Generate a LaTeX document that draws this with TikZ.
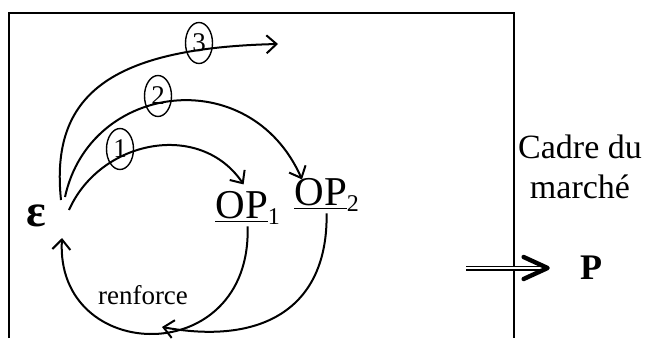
\documentclass[tikz,border=0pt]{standalone}
\usepackage{fontspec}
\setmainfont{Liberation Serif}
\usetikzlibrary{arrows.meta, positioning, shapes.geometric}

\begin{document}
\begin{tikzpicture}[
  x=0.5pt, y=-0.5pt,
  flow/.style={-{Straight Barb[length=5pt, width=9pt]}, line width=1pt},
  numring/.style={ellipse, draw, line width=0.7pt, minimum width=13.5pt, minimum height=20.5pt, inner sep=0pt, font=\fontsize{13.5}{14}\selectfont},
  opnode/.style={anchor=base west, inner sep=1pt, font=\fontsize{20.5}{24}\selectfont},
  push/.style={double, double distance=1.1pt, line width=0.7pt},
  pushhead/.style={line width=2.2pt, line cap=round, line join=round},
  frame/.style={line width=0.75pt}
]
  \useasboundingbox (0,0) rectangle (648,338);

  % Frame, open at the bottom
  \draw[frame] (9,338) -- (9,13) -- (514,13) -- (514,338);

  % Agent and operations
  \node[font=\fontsize{23}{23}\selectfont\bfseries] (eps) at (36,216) {ε};
  \node[opnode] (op1) at (213,218) {\underline{OP}\raisebox{-3pt}{\fontsize{12}{12}\selectfont 1}};
  \node[opnode] (op2) at (292,205) {\underline{OP}\raisebox{-3pt}{\fontsize{12}{12}\selectfont 2}};

  % Start and end points near the agent
  \coordinate (e1) at ([shift={(33,-6)}]eps.center);
  \coordinate (e2) at ([shift={(29,-19)}]eps.center);
  \coordinate (e3) at ([shift={(25,-16)}]eps.center);
  \coordinate (eIn) at ([shift={(26,22)}]eps.center);
  \coordinate (open) at (278,44);

  % Arcs 1, 2, 3
  \draw[flow] (e1) .. controls (100,140) and (200,120) .. ([xshift=-2pt, yshift=2pt]op1.north);
  \draw[flow] (e2) .. controls (90,82) and (250,62) .. ([xshift=5pt, yshift=-2pt]op2.north west);
  \draw[flow] (e3) .. controls (50,95) and (110,48) .. (open);

  % Numbers on the arcs
  \node[numring] (n1) at (120,149) {1};
  \node[numring] (n2) at (158,96) {2};
  \node[numring] (n3) at (199,43) {3};

  % Feedback
  \draw[flow] (op1.south) .. controls (252,370) and (55,365) .. (eIn);
  \draw[flow] (op2.south) .. controls (328,310) and (260,345) .. (162,327);
  \node[font=\fontsize{13.5}{14}\selectfont] (renf) at (143,295) {renforce};

  % Market frame and price
  \node[align=center, font=\fontsize{17}{20}\selectfont] (cadre) at (580,167) {Cadre du\\marché};
  \node[inner sep=0pt, font=\fontsize{18}{18}\selectfont\bfseries] (P) at (591,268) {P};
  \coordinate (pushStart) at (466,268);
  \coordinate (pushTip) at ([xshift=-16pt]P.west);
  \draw[push] (pushStart) -- ([xshift=-2pt]pushTip);
  \draw[pushhead] ([shift={(-24,-11)}]pushTip) -- (pushTip) -- ([shift={(-24,11)}]pushTip);
\end{tikzpicture}
\end{document}
